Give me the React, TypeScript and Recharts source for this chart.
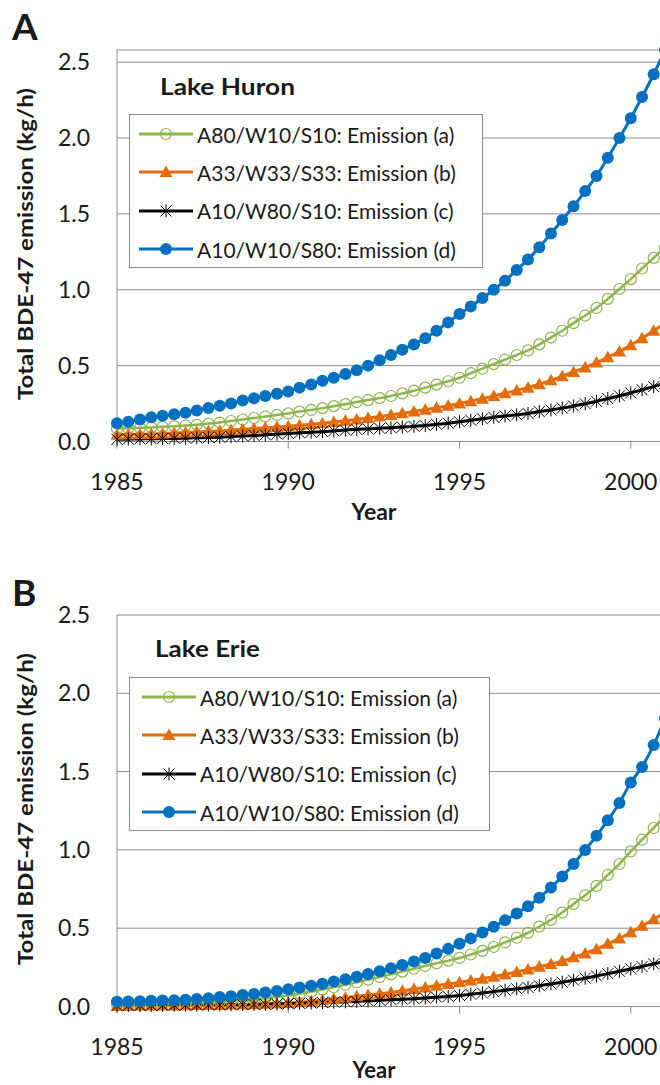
import React from 'react';
import { LineChart, Line, XAxis, YAxis, CartesianGrid, Legend } from 'recharts';

// sampling times (every 4 months), 1985 .. 2001
const years = [
  1985, 1985.33, 1985.67, 1986, 1986.33, 1986.67, 1987, 1987.33, 1987.67,
  1988, 1988.33, 1988.67, 1989, 1989.33, 1989.67, 1990, 1990.33, 1990.67,
  1991, 1991.33, 1991.67, 1992, 1992.33, 1992.67, 1993, 1993.33, 1993.67,
  1994, 1994.33, 1994.67, 1995, 1995.33, 1995.67, 1996, 1996.33, 1996.67,
  1997, 1997.33, 1997.67, 1998, 1998.33, 1998.67, 1999, 1999.33, 1999.67,
  2000, 2000.33, 2000.67, 2001,
];

// Lake Huron
const huronA = [
  0.085, 0.087, 0.09, 0.093, 0.097, 0.1, 0.105, 0.11, 0.118,
  0.125, 0.135, 0.145, 0.155, 0.165, 0.175, 0.185, 0.197, 0.208,
  0.22, 0.233, 0.246, 0.26, 0.273, 0.286, 0.3, 0.317, 0.335,
  0.355, 0.375, 0.397, 0.42, 0.45, 0.48, 0.51, 0.54, 0.57,
  0.6, 0.64, 0.685, 0.73, 0.78, 0.83, 0.88, 0.94, 1.005,
  1.07, 1.14, 1.21, 1.28,
];
const huronB = [
  0.045, 0.046, 0.048, 0.05, 0.053, 0.056, 0.06, 0.063, 0.067,
  0.07, 0.075, 0.08, 0.085, 0.09, 0.095, 0.1, 0.107, 0.113,
  0.12, 0.128, 0.136, 0.145, 0.155, 0.165, 0.175, 0.186, 0.198,
  0.21, 0.223, 0.236, 0.25, 0.265, 0.282, 0.3, 0.318, 0.336,
  0.355, 0.378, 0.403, 0.43, 0.458, 0.488, 0.52, 0.555, 0.593,
  0.635, 0.68, 0.73, 0.78,
];
const huronC = [
  0.015, 0.016, 0.017, 0.018, 0.019, 0.02, 0.022, 0.024, 0.026,
  0.028, 0.032, 0.036, 0.04, 0.044, 0.048, 0.053, 0.057, 0.061,
  0.065, 0.07, 0.075, 0.08, 0.083, 0.087, 0.09, 0.095, 0.1,
  0.105, 0.113, 0.121, 0.13, 0.14, 0.15, 0.16, 0.168, 0.176,
  0.185, 0.197, 0.208, 0.22, 0.234, 0.249, 0.265, 0.283, 0.301,
  0.32, 0.341, 0.362, 0.385,
];
const huronD = [
  0.12, 0.13, 0.145, 0.16, 0.17, 0.18, 0.19, 0.205, 0.22,
  0.235, 0.25, 0.27, 0.285, 0.3, 0.315, 0.33, 0.355, 0.375,
  0.4, 0.42, 0.445, 0.47, 0.5, 0.535, 0.57, 0.605, 0.64,
  0.68, 0.73, 0.785, 0.84, 0.89, 0.945, 1.0, 1.06, 1.13,
  1.2, 1.28, 1.37, 1.46, 1.55, 1.65, 1.75, 1.87, 2.0,
  2.13, 2.27, 2.42, 2.58,
];

// Lake Erie
const erieA = [
  0.01, 0.011, 0.012, 0.013, 0.015, 0.017, 0.02, 0.023, 0.026,
  0.03, 0.034, 0.039, 0.045, 0.052, 0.06, 0.07, 0.081, 0.094,
  0.108, 0.123, 0.139, 0.155, 0.171, 0.188, 0.205, 0.223, 0.241,
  0.26, 0.276, 0.293, 0.31, 0.332, 0.355, 0.38, 0.409, 0.439,
  0.47, 0.51, 0.553, 0.6, 0.655, 0.71, 0.77, 0.84, 0.91,
  0.99, 1.065, 1.14, 1.22,
];
const erieB = [
  0.005, 0.005, 0.006, 0.006, 0.007, 0.007, 0.008, 0.009, 0.009,
  0.01, 0.012, 0.013, 0.015, 0.017, 0.019, 0.022, 0.027, 0.033,
  0.04, 0.048, 0.056, 0.065, 0.073, 0.081, 0.09, 0.1, 0.111,
  0.122, 0.133, 0.144, 0.155, 0.166, 0.178, 0.19, 0.205, 0.221,
  0.237, 0.254, 0.271, 0.29, 0.314, 0.339, 0.366, 0.4, 0.435,
  0.474, 0.515, 0.557, 0.6,
];
const erieC = [
  0.005, 0.006, 0.006, 0.007, 0.007, 0.008, 0.008, 0.009, 0.009,
  0.01, 0.011, 0.012, 0.013, 0.014, 0.016, 0.018, 0.02, 0.022,
  0.025, 0.028, 0.03, 0.032, 0.036, 0.04, 0.043, 0.047, 0.05,
  0.054, 0.059, 0.064, 0.07, 0.078, 0.086, 0.095, 0.104, 0.113,
  0.122, 0.133, 0.144, 0.155, 0.168, 0.181, 0.195, 0.21, 0.225,
  0.24, 0.255, 0.272, 0.29,
];
const erieD = [
  0.03, 0.032, 0.034, 0.036, 0.038, 0.04, 0.043, 0.048, 0.053,
  0.06, 0.066, 0.073, 0.08, 0.089, 0.099, 0.11, 0.121, 0.133,
  0.145, 0.159, 0.174, 0.19, 0.207, 0.225, 0.245, 0.265, 0.287,
  0.31, 0.338, 0.368, 0.4, 0.435, 0.472, 0.51, 0.55, 0.594,
  0.64, 0.695, 0.76, 0.83, 0.91, 1.0, 1.09, 1.19, 1.3,
  1.43, 1.53, 1.67, 1.84,
];

const xTicks = [1985, 1990, 1995, 2000];
const yTicks = [0, 0.5, 1, 1.5, 2, 2.5];

const seriesNames = {
  a: 'A80/W10/S10: Emission (a)',
  b: 'A33/W33/S33: Emission (b)',
  c: 'A10/W80/S10: Emission (c)',
  d: 'A10/W10/S80: Emission (d)',
};
const seriesKeys = ['a', 'b', 'c', 'd'] as const;

const GREEN = '#8DB54F';
const ORANGE = '#E46C0A';
const BLACK = '#000000';
const BLUE = '#0070C0';
const GRID = '#8c8c8c';
const INK = '#1a1a1a';
const FONT = 'Lato, "Open Sans", sans-serif';

const colors: Record<string, string> = { a: GREEN, b: ORANGE, c: BLACK, d: BLUE };

const buildRows = (a: number[], b: number[], c: number[], d: number[]) =>
  years.map((year, i) => ({ year, a: a[i], b: b[i], c: c[i], d: d[i] }));

const huronRows = buildRows(huronA, huronB, huronC, huronD);
const erieRows = buildRows(erieA, erieB, erieC, erieD);

// marker shapes
const marker = (kind: string, cx: number, cy: number, key?: string) => {
  if (kind === 'a')
    return <circle key={key} cx={cx} cy={cy} r={5.5} fill="none" stroke={GREEN} strokeWidth={1.2} />;
  if (kind === 'b')
    return (
      <polygon
        key={key}
        points={`${cx},${cy - 6.5} ${cx - 6.5},${cy + 5} ${cx + 6.5},${cy + 5}`}
        fill={ORANGE}
      />
    );
  if (kind === 'c')
    return (
      <g key={key} stroke={BLACK} strokeWidth={1}>
        <line x1={cx} y1={cy - 6.5} x2={cx} y2={cy + 6.5} />
        <line x1={cx - 5.5} y1={cy - 5.5} x2={cx + 5.5} y2={cy + 5.5} />
        <line x1={cx - 5.5} y1={cy + 5.5} x2={cx + 5.5} y2={cy - 5.5} />
      </g>
    );
  return <circle key={key} cx={cx} cy={cy} r={6} fill={BLUE} />;
};

const makeDot = (kind: string) => (props: any) => {
  const { cx, cy, index } = props;
  if (cx == null || cy == null) return <g key={`e-${kind}-${index}`} />;
  return marker(kind, cx, cy, `d-${kind}-${index}`);
};

const LegendBox = ({ payload, shift }: any) => {
  const entries = seriesKeys
    .map((k) => (payload || []).find((p: any) => p.dataKey === k))
    .filter(Boolean);
  return (
    <div
      style={{
        position: 'relative',
        width: '100%',
        height: '100%',
        boxSizing: 'border-box',
        border: `1px solid ${GRID}`,
        background: '#fff',
        fontFamily: FONT,
        fontSize: 21,
        color: INK,
      }}
    >
      {entries.map((entry: any, i: number) => (
        <div
          key={entry.dataKey}
          style={{
            position: 'absolute',
            left: 8 + shift,
            top: 19 + i * 38.4 - 13,
            height: 26,
            display: 'flex',
            alignItems: 'center',
            whiteSpace: 'nowrap',
          }}
        >
          <svg width={56} height={26}>
            <line x1={1} y1={13} x2={55} y2={13} stroke={colors[entry.dataKey]} strokeWidth={3} />
            {marker(entry.dataKey, 28, 13)}
          </svg>
          <span style={{ marginLeft: 3 }}>{entry.value}</span>
        </div>
      ))}
    </div>
  );
};

interface PanelProps {
  rows: any[];
  height: number;
  legendBox: { left: number; top: number; width: number; shift: number };
}

const Panel = ({ rows, height, legendBox }: PanelProps) => (
  <LineChart width={665} height={height} data={rows} margin={{ top: 50, right: 0, left: 0, bottom: 0 }}>
    <CartesianGrid horizontal vertical={false} stroke={GRID} strokeWidth={1} />
    <XAxis
      dataKey="year"
      type="number"
      domain={[1985, 2001]}
      ticks={xTicks}
      height={height - 50 - 391.5}
      stroke={GRID}
      tickSize={7}
      tickMargin={25}
      tick={{ fill: INK, fontSize: 23, fontFamily: FONT }}
    />
    <YAxis
      type="number"
      domain={[0, 2.5]}
      ticks={yTicks}
      width={117}
      stroke={GRID}
      tickLine={false}
      tickSize={0}
      tickMargin={27}
      tickFormatter={(v: number) => v.toFixed(1)}
      tick={{ fill: INK, fontSize: 23, fontFamily: FONT }}
    />
    <Legend
      layout="horizontal"
      verticalAlign="middle"
      align="center"
      wrapperStyle={{ left: legendBox.left, top: legendBox.top, width: legendBox.width, height: 154 }}
      content={(p: any) => <LegendBox payload={p.payload} shift={legendBox.shift} />}
    />
    {seriesKeys.map((k) => (
      <Line
        key={k}
        type="monotone"
        dataKey={k}
        name={seriesNames[k]}
        stroke={colors[k]}
        strokeWidth={k === 'a' ? 2.5 : 3}
        dot={makeDot(k)}
        activeDot={false}
        isAnimationActive={false}
      />
    ))}
  </LineChart>
);

const App = () => (
  <div style={{ position: 'absolute', left: 0, top: 0, width: 660, height: 1085, overflow: 'hidden', background: '#fff' }}>
    <div style={{ position: 'absolute', left: 0, top: 0 }}>
      <Panel rows={huronRows} height={565} legendBox={{ left: 129, top: 114, width: 354, shift: 0 }} />
    </div>
    <div style={{ position: 'absolute', left: 0, top: 565 }}>
      <Panel rows={erieRows} height={520} legendBox={{ left: 129, top: 112, width: 361, shift: 3 }} />
    </div>
    <svg
      width={660}
      height={1085}
      style={{ position: 'absolute', left: 0, top: 0, pointerEvents: 'none' }}
      fontFamily={FONT}
    >
      <text x={12} y={40} fontSize={37} fontWeight="bold" fill={INK}>A</text>
      <text x={12} y={606} fontSize={37} fontWeight="bold" fill={INK}>B</text>
      <text x={160} y={95} fontSize={22} fontWeight="bold" fill={INK} textLength={135} lengthAdjust="spacingAndGlyphs">
        Lake Huron
      </text>
      <text x={155} y={657} fontSize={22} fontWeight="bold" fill={INK} textLength={105} lengthAdjust="spacingAndGlyphs">
        Lake Erie
      </text>
      {[244, 809].map((cy) => (
        <text
          key={cy}
          x={24}
          y={cy}
          fontSize={21}
          fontWeight="bold"
          fill={INK}
          textAnchor="middle"
          dominantBaseline="central"
          textLength={312}
          lengthAdjust="spacingAndGlyphs"
          transform={`rotate(-90, 24, ${cy})`}
        >
          Total BDE-47 emission (kg/h)
        </text>
      ))}
      <text x={374} y={520} fontSize={23} fontWeight="bold" fill={INK} textAnchor="middle">Year</text>
      <text x={374} y={1078} fontSize={22} fontWeight="bold" fill={INK} textAnchor="middle">Year</text>
    </svg>
  </div>
);

export default App;
